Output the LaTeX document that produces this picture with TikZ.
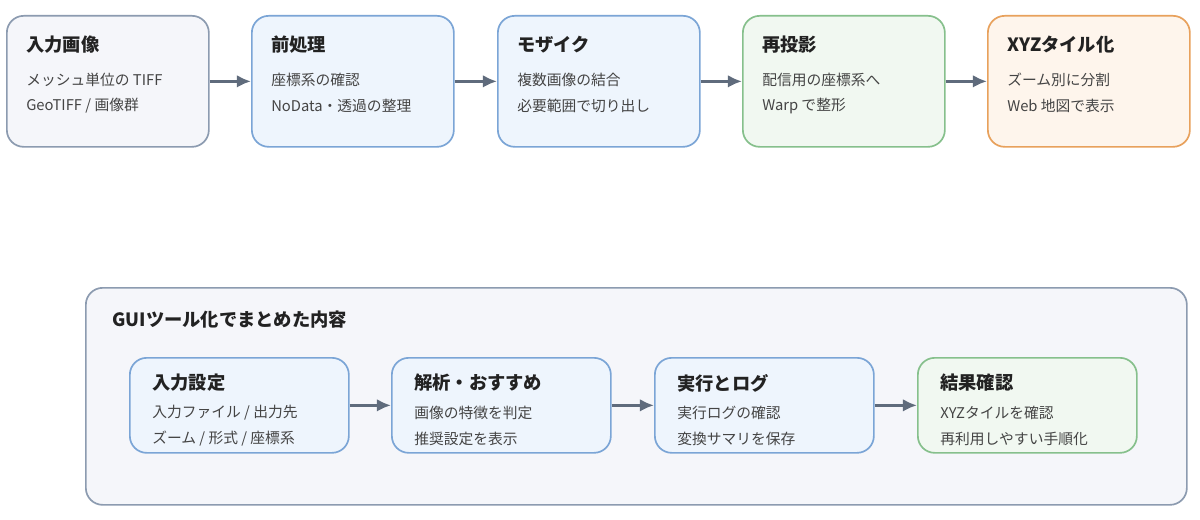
\documentclass[tikz,border=0pt]{standalone}
\usepackage{fontspec}
\setmainfont{Noto Sans CJK JP}
\usetikzlibrary{positioning,arrows.meta}
\definecolor{grayfill}{HTML}{F5F6FA}
\definecolor{graydraw}{HTML}{8C9BB0}
\definecolor{bluefill}{HTML}{EEF5FD}
\definecolor{bluedraw}{HTML}{7BA5D6}
\definecolor{greenfill}{HTML}{F1F8F1}
\definecolor{greendraw}{HTML}{86C08C}
\definecolor{orangefill}{HTML}{FEF5EC}
\definecolor{orangedraw}{HTML}{E8A15C}
\definecolor{arrowcol}{HTML}{5F6B7C}
\definecolor{textcol}{HTML}{222222}
\definecolor{bodycol}{HTML}{444444}
\tikzset{
  stage/.style={draw=#1draw, fill=#1fill, line width=1.2pt, rounded corners=12pt,
    minimum width=202*0.025cm, minimum height=131*0.025cm, anchor=north west, inner sep=0pt},
  small stage/.style={stage=#1, minimum width=219*0.025cm, minimum height=95*0.025cm},
  ttl/.style={anchor=west, font=\fontsize{13}{15}\selectfont\bfseries, text=textcol, inner sep=0pt},
  body/.style={anchor=west, font=\fontsize{10.5}{12}\selectfont, text=bodycol, inner sep=0pt},
  flow/.style={-{Latex[length=10pt,width=9pt]}, draw=arrowcol, line width=2pt},
}
\begin{document}
\begin{tikzpicture}[x=0.025cm,y=-0.025cm]
\useasboundingbox[fill=white] (0,0) rectangle (1200,519);

% Top pipeline
\foreach \n/\x/\c/\t/\a/\b in {
  s1/6/gray/入力画像/{メッシュ単位の TIFF}/{GeoTIFF / 画像群},
  s2/251/blue/前処理/座標系の確認/NoData・透過の整理,
  s3/497/blue/モザイク/複数画像の結合/必要範囲で切り出し,
  s4/742/green/再投影/配信用の座標系へ/{Warp で整形},
  s5/987/orange/XYZタイル化/ズーム別に分割/{Web 地図で表示}} {
  \node[stage=\c] (\n) at (\x,15) {};
  \node[ttl] (\n t) at ([xshift=20*0.025cm,yshift=-30*0.025cm]\n.north west) {\t};
  \node[body] (\n a) at ([xshift=20*0.025cm,yshift=-65*0.025cm]\n.north west) {\a};
  \node[body] (\n b) at ([xshift=20*0.025cm,yshift=-91*0.025cm]\n.north west) {\b};
}
\foreach \p/\q in {s1/s2,s2/s3,s3/s4,s4/s5}
  \draw[flow] (\p.east) -- (\q.west);

% GUI summary
\node[draw=graydraw, fill=grayfill, line width=1.2pt, rounded corners=12pt, anchor=north west,
  minimum width=1101*0.025cm, minimum height=217*0.025cm, inner sep=0pt] (gui) at (85,287) {};
\node[ttl] (gui t) at ([xshift=27*0.025cm,yshift=-33*0.025cm]gui.north west) {GUIツール化でまとめた内容};

\foreach \n/\x/\c/\t/\a/\b in {
  g1/129/blue/入力設定/{入力ファイル / 出力先}/{ズーム / 形式 / 座標系},
  g2/391/blue/解析・おすすめ/画像の特徴を判定/推奨設定を表示,
  g3/654/blue/実行とログ/実行ログの確認/変換サマリを保存,
  g4/917/green/結果確認/XYZタイルを確認/再利用しやすい手順化} {
  \node[small stage=\c] (\n) at (\x,357) {};
  \node[ttl] (\n t) at ([xshift=23*0.025cm,yshift=-26*0.025cm]\n.north west) {\t};
  \node[body] (\n a) at ([xshift=23*0.025cm,yshift=-56*0.025cm]\n.north west) {\a};
  \node[body] (\n b) at ([xshift=23*0.025cm,yshift=-82*0.025cm]\n.north west) {\b};
}
\foreach \p/\q in {g1/g2,g2/g3,g3/g4}
  \draw[flow] (\p.east) -- (\q.west);

\end{tikzpicture}
\end{document}
